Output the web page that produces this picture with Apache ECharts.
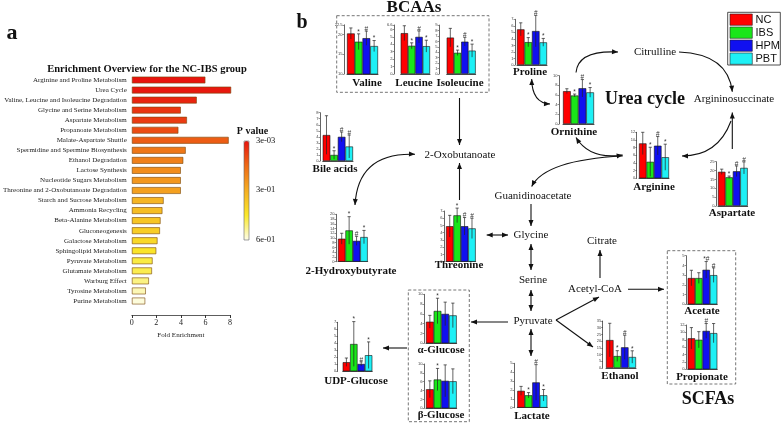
<!DOCTYPE html>
<html><head><meta charset="utf-8">
<script src="https://cdn.jsdelivr.net/npm/echarts@6/dist/echarts.min.js"></script>
<style>html,body{margin:0;padding:0;background:#fff}#c{width:784px;height:423px}</style>
</head><body><div id="c"></div>
<script>
// ---------- Panel a data ----------
const enrichPathways = ['Arginine and Proline Metabolism','Urea Cycle','Valine, Leucine and Isoleucine Degradation','Glycine and Serine Metabolism','Aspartate Metabolism','Propanoate Metabolism','Malate-Aspartate Shuttle','Spermidine and Spermine Biosynthesis','Ethanol Degradation','Lactose Synthesis','Nucleotide Sugars Metabolism','Threonine and 2-Oxobutanoate Degradation','Starch and Sucrose Metabolism','Ammonia Recycling','Beta-Alanine Metabolism','Gluconeogenesis','Galactose Metabolism','Sphingolipid Metabolism','Pyruvate Metabolism','Glutamate Metabolism','Warburg Effect','Tyrosine Metabolism','Purine Metabolism'];
const foldEnrichment = [6.0, 8.1, 5.3, 4.0, 4.5, 3.8, 7.9, 4.4, 4.2, 4.0, 4.0, 4.0, 2.6, 2.5, 2.35, 2.3, 2.1, 2.0, 1.7, 1.65, 1.4, 1.15, 1.1];
const pValues = [0.003, 0.01, 0.03, 0.06, 0.07, 0.10, 0.13, 0.18, 0.20, 0.23, 0.25, 0.27, 0.32, 0.34, 0.36, 0.38, 0.41, 0.44, 0.47, 0.48, 0.52, 0.56, 0.59];
const xTicksA = [0, 8, 2];

// ---------- Panel b data ----------
const groups = ['NC','IBS','HPM','PBT'];
const valineMean = [20.3, 18.2, 19.1, 17.1];   const valineErr = [1.4, 2.0, 1.8, 1.4];   const valineSig = ['', '*', '#', '*'];
const leucineMean = [5.5, 3.8, 5.0, 3.75];     const leucineErr = [1.0, 0.4, 0.8, 0.8];  const leucineSig = ['', '*', '#', '*'];
const isoleucineMean = [6.7, 3.9, 5.95, 4.3];  const isoleucineErr = [1.7, 0.5, 0.8, 1.2]; const isoleucineSig = ['', '*', '#', '*'];
const prolineMean = [5.46, 3.5, 5.2, 3.47];    const prolineErr = [1.0, 0.7, 2.4, 0.6];  const prolineSig = ['', '*', '#', '*'];
const ornithineMean = [6.8, 5.9, 7.4, 6.55];   const ornithineErr = [0.5, 0.3, 1.8, 1.0]; const ornithineSig = ['', '*', '#', '*'];
const bileMean = [4.3, 1.0, 4.0, 2.4];         const bileErr = [3.2, 0.7, 0.8, 1.9];     const bileSig = ['', '*', '#', '#'];
const arginineMean = [9.1, 4.3, 8.5, 5.5];     const arginineErr = [2.9, 3.8, 2.4, 3.4]; const arginineSig = ['', '*', '#', '*'];
const aspartateMean = [19.3, 16.2, 19.6, 21.5];const aspartateErr = [1.5, 0.7, 3.0, 3.4];const aspartateSig = ['', '*', '#', '#'];
const hydroxyMean = [9.7, 13.2, 8.8, 10.4];    const hydroxyErr = [2.3, 5.8, 1.9, 2.8];  const hydroxySig = ['', '*', '#', '*'];
const threonineMean = [4.9, 6.4, 4.9, 4.6];    const threonineErr = [1.5, 1.0, 1.2, 1.4]; const threonineSig = ['', '*', '#', '#'];
const aGlucoseMean = [4.4, 6.6, 6.0, 5.7];     const aGlucoseErr = [1.3, 2.6, 2.4, 2.5]; const aGlucoseSig = ['', '*', '', ''];
const bGlucoseMean = [4.3, 6.5, 6.2, 6.1];     const bGlucoseErr = [1.9, 2.5, 3.6, 2.8]; const bGlucoseSig = ['', '*', '', ''];
const udpMean = [1.3, 3.9, 1.05, 2.3];         const udpErr = [0.6, 3.2, 0.3, 1.9];      const udpSig = ['', '*', '#', '*'];
const lactateMean = [1.9, 1.4, 2.85, 1.4];     const lactateErr = [0.5, 0.3, 2.0, 0.65]; const lactateSig = ['', '*', '#', '*'];
const ethanolMean = [20.8, 8.9, 15.4, 8.2];    const ethanolErr = [12.5, 4.0, 9.0, 4.6]; const ethanolSig = ['', '*', '#', '*'];
const acetateMean = [2.7, 2.7, 3.55, 3.0];     const acetateErr = [0.8, 0.55, 0.85, 0.75]; const acetateSig = ['', '', '*#', '#'];
const propionateMean = [8.4, 8.0, 10.4, 9.8];  const propionateErr = [2.9, 2.2, 2.0, 2.6]; const propionateSig = ['', '', '#', ''];

const metabolites = [
  {label:'Valine', mean:valineMean, err:valineErr, sig:valineSig, min:10, max:22.5, interval:5},
  {label:'Leucine', mean:leucineMean, err:leucineErr, sig:leucineSig, min:0, max:6.6, interval:1},
  {label:'Isoleucine', mean:isoleucineMean, err:isoleucineErr, sig:isoleucineSig, min:0, max:9, interval:1},
  {label:'Proline', mean:prolineMean, err:prolineErr, sig:prolineSig, min:0, max:7, interval:1},
  {label:'Ornithine', mean:ornithineMean, err:ornithineErr, sig:ornithineSig, min:0, max:10, interval:2},
  {label:'Bile acids', mean:bileMean, err:bileErr, sig:bileSig, min:0, max:8, interval:1},
  {label:'Arginine', mean:arginineMean, err:arginineErr, sig:arginineSig, min:0, max:12, interval:2},
  {label:'Aspartate', mean:aspartateMean, err:aspartateErr, sig:aspartateSig, min:0, max:25, interval:5},
  {label:'2-Hydroxybutyrate', mean:hydroxyMean, err:hydroxyErr, sig:hydroxySig, min:0, max:20, interval:2},
  {label:'Threonine', mean:threonineMean, err:threonineErr, sig:threonineSig, min:0, max:7, interval:1},
  {label:'\u03b1-Glucose', mean:aGlucoseMean, err:aGlucoseErr, sig:aGlucoseSig, min:0, max:10, interval:2},
  {label:'\u03b2-Glucose', mean:bGlucoseMean, err:bGlucoseErr, sig:bGlucoseSig, min:0, max:10, interval:2},
  {label:'UDP-Glucose', mean:udpMean, err:udpErr, sig:udpSig, min:0, max:7, interval:1},
  {label:'Lactate', mean:lactateMean, err:lactateErr, sig:lactateSig, min:0, max:5, interval:1},
  {label:'Ethanol', mean:ethanolMean, err:ethanolErr, sig:ethanolSig, min:0, max:35, interval:5},
  {label:'Acetate', mean:acetateMean, err:acetateErr, sig:acetateSig, min:0, max:5, interval:1},
  {label:'Propionate', mean:propionateMean, err:propionateErr, sig:propionateSig, min:0, max:12, interval:2}
];

// ---------- Layout (positions, px) ----------
const chartLayout = {
  'Valine':            {axisX:344, barL:347, barR:378, top:24.8, bottom:74, lx:367, ly:83},
  'Leucine':           {axisX:394, barL:400.7, barR:430, top:25, bottom:74, lx:414, ly:83},
  'Isoleucine':        {axisX:439, barL:446.7, barR:475.7, top:25.1, bottom:74, lx:460, ly:83},
  'Proline':           {axisX:515, barL:517, barR:547, top:19.3, bottom:65, lx:530, ly:72},
  'Ornithine':         {axisX:559, barL:563, barR:594, top:75.7, bottom:124, lx:574, ly:132},
  'Bile acids':        {axisX:320, barL:322.7, barR:353, top:112.7, bottom:161, lx:335, ly:169},
  'Arginine':          {axisX:636.7, barL:639, barR:669, top:132.3, bottom:178.3, lx:654, ly:187},
  'Aspartate':         {axisX:716, barL:718, barR:747.7, top:161.7, bottom:206, lx:732, ly:213.5},
  '2-Hydroxybutyrate': {axisX:336, barL:338, barR:367.7, top:214.3, bottom:261.7, lx:351, ly:271},
  'Threonine':         {axisX:444, barL:446, barR:475.7, top:211, bottom:261.7, lx:459, ly:265.5},
  '\u03b1-Glucose':    {axisX:424, barL:426, barR:456.7, top:294.3, bottom:343.3, lx:441, ly:350},
  '\u03b2-Glucose':    {axisX:424, barL:426, barR:456.7, top:364, bottom:408.3, lx:441, ly:415},
  'UDP-Glucose':       {axisX:337.7, barL:342.7, barR:372.3, top:322.3, bottom:371.3, lx:356, ly:381},
  'Lactate':           {axisX:514, barL:517.3, barR:547.3, top:363.3, bottom:407.7, lx:532, ly:416},
  'Ethanol':           {axisX:602.7, barL:606, barR:636, top:321, bottom:368, lx:620, ly:376},
  'Acetate':           {axisX:686, barL:687.7, barR:717.3, top:255.7, bottom:304.3, lx:702, ly:311},
  'Propionate':        {axisX:686, barL:687.7, barR:717.3, top:325, bottom:369.3, lx:702, ly:377}
};

const SERIF = '"Liberation Serif","Times New Roman",serif';
const SANS = '"Liberation Sans",Arial,sans-serif';
const groupColors = ['#ff0000', '#19e619', '#1010f0', '#1ef0f5'];

const chart = echarts.init(document.getElementById('c'), null, {renderer:'canvas'});

const grids = [{left:130, top:75, width:100, height:231}];
const xAxes = [{gridIndex:0, type:'value', min:xTicksA[0], max:xTicksA[1], interval:xTicksA[2], offset:9,
  axisLine:{show:true, lineStyle:{color:'#333', width:0.8}}, axisTick:{show:true, length:3, lineStyle:{color:'#333'}},
  splitLine:{show:false}, axisLabel:{fontSize:8, fontFamily:SERIF, color:'#222', margin:4},
  name:'Fold Enrichment', nameLocation:'middle', nameGap:17, nameTextStyle:{fontSize:7, fontFamily:SERIF, color:'#222'}}];
const yAxes = [{gridIndex:0, type:'category', inverse:true, data:enrichPathways,
  axisLine:{show:false}, axisTick:{show:false}, axisLabel:{fontSize:7, fontFamily:SERIF, color:'#222', margin:5}}];
const series = [{type:'bar', xAxisIndex:0, yAxisIndex:0, barWidth:7, clip:false,
  data: enrichPathways.map((n,i)=>[foldEnrichment[i], n, pValues[i]]), encode:{x:0, y:1},
  itemStyle:{borderColor:'rgba(120,70,10,0.75)', borderWidth:0.8}}];

function makeErrRender(sig, minV) {
  return function(params, api) {
    const i = api.value(0), m = api.value(1), e = api.value(2);
    const cx = api.coord([i, m])[0];
    const yTop = api.coord([i, m + e])[1];
    const yBot = api.coord([i, Math.max(minV, m - e)])[1];
    const cap = 1.6;
    const st = {stroke:'#222', lineWidth:0.7};
    const children = [
      {type:'line', shape:{x1:cx, y1:yTop, x2:cx, y2:yBot}, style:st},
      {type:'line', shape:{x1:cx-cap, y1:yTop, x2:cx+cap, y2:yTop}, style:st}
    ];
    const s = sig[params.dataIndex];
    if (s) children.push({type:'text', x:cx, y:yTop + 1.5, style:{text:s, fontSize:6.5, fontFamily:SANS, fill:'#333', align:'center', verticalAlign:'bottom'}});
    return {type:'group', children};
  };
}

const graphics = [];
metabolites.forEach((mt, k) => {
  const L = chartLayout[mt.label];
  const gi = k + 1;
  grids.push({left:L.barL, top:L.top, width:L.barR - L.barL, height:L.bottom - L.top});
  xAxes.push({gridIndex:gi, type:'category', data:groups, boundaryGap:true,
    axisLine:{show:true, lineStyle:{color:'#222', width:0.8}}, axisTick:{show:false}, axisLabel:{show:false}});
  yAxes.push({gridIndex:gi, type:'value', min:mt.min, max:mt.max, interval:mt.interval, offset:L.barL - L.axisX,
    axisLine:{show:true, lineStyle:{color:'#222', width:0.7}}, axisTick:{show:true, length:1.5, lineStyle:{color:'#222', width:0.5}},
    splitLine:{show:false}, axisLabel:{fontSize:4, color:'#444', margin:1.5, fontFamily:SANS}});
  series.push({type:'bar', xAxisIndex:gi, yAxisIndex:gi, barCategoryGap:'0%', data:mt.mean.slice(),
    itemStyle:{color:p=>groupColors[p.dataIndex], borderColor:'#111', borderWidth:0.6}});
  series.push({type:'custom', xAxisIndex:gi, yAxisIndex:gi, clip:false, z:5,
    data: mt.mean.map((m,i)=>[i, m, mt.err[i]]), encode:{x:0, y:1},
    renderItem: makeErrRender(mt.sig, mt.min)});
  graphics.push({type:'text', x:L.lx, y:L.ly, style:{text:mt.label, font:'bold 11px ' + SERIF, fill:'#111', align:'center', verticalAlign:'middle'}});
});

// ---------- text & arrows ----------
function txt(t, x, y, font, align) {
  graphics.push({type:'text', x, y, style:{text:t, font, fill:'#111', align: align || 'center', verticalAlign:'middle'}});
}
txt('a', 12, 33, 'bold 22px ' + SERIF);
txt('b', 302, 23, 'bold 20px ' + SERIF);
txt('Enrichment Overview for the NC-IBS group', 147, 69.5, 'bold 10.5px ' + SERIF);
txt('P value', 252.5, 131, 'bold 10px ' + SERIF);
txt('3e-03', 256, 141, '8.5px ' + SERIF, 'left');
txt('3e-01', 256, 190, '8.5px ' + SERIF, 'left');
txt('6e-01', 256, 240, '8.5px ' + SERIF, 'left');
txt('BCAAs', 414, 8, 'bold 17px ' + SERIF);
txt('Urea cycle', 645, 99, 'bold 18px ' + SERIF);
txt('SCFAs', 708, 399, 'bold 18px ' + SERIF);
const nodeFont = '11px ' + SERIF;
txt('Citrulline', 655, 52.5, nodeFont);
txt('Argininosuccinate', 734, 99.5, nodeFont);
txt('2-Oxobutanoate', 460, 155, nodeFont);
txt('Guanidinoacetate', 533, 196, nodeFont);
txt('Glycine', 531, 235, nodeFont);
txt('Citrate', 602, 241, nodeFont);
txt('Serine', 533, 280, nodeFont);
txt('Acetyl-CoA', 595, 289, nodeFont);
txt('Pyruvate', 533, 321, nodeFont);

// dashed boxes
function dbox(x1, y1, x2, y2) {
  graphics.push({type:'rect', shape:{x:x1, y:y1, width:x2-x1, height:y2-y1}, style:{fill:'none', stroke:'#666', lineWidth:0.9, lineDash:[3,2]}});
}
dbox(336.7, 15.7, 489, 92.3);
dbox(408.3, 290, 469.3, 421.7);
dbox(667.3, 250.7, 735.7, 384);

// colour bar border
graphics.push({type:'rect', z:100, shape:{x:244, y:141, width:5, height:99}, style:{fill:'none', stroke:'#666', lineWidth:0.6}});

// legend
graphics.push({type:'rect', shape:{x:727.7, y:12.3, width:52.6, height:52.7}, style:{fill:'#fff', stroke:'#222', lineWidth:0.8}});
groups.forEach((g, i) => {
  graphics.push({type:'rect', shape:{x:730, y:14 + 13*i, width:22.3, height:11.3}, style:{fill:groupColors[i], stroke:'#222', lineWidth:0.6}});
  graphics.push({type:'text', x:755.5, y:19.8 + 13*i, style:{text:g, font:'11px ' + SANS, fill:'#111', align:'left', verticalAlign:'middle'}});
});

function head(tx, ty, dx, dy) {
  const l = Math.hypot(dx, dy), ux = dx/l, uy = dy/l, len = 6, hw = 2.5;
  const bx = tx - ux*len, by = ty - uy*len;
  graphics.push({type:'polygon', shape:{points:[[tx,ty],[bx - uy*hw, by + ux*hw],[bx + uy*hw, by - ux*hw]]}, style:{fill:'#111'}});
}
const ast = {stroke:'#111', lineWidth:1.1, fill:'none'};
function arrow(x1, y1, x2, y2, heads) {
  graphics.push({type:'line', shape:{x1, y1, x2, y2}, style:ast});
  if (heads !== 'start') head(x2, y2, x2 - x1, y2 - y1);
  if (heads === 'both' || heads === 'start') head(x1, y1, x1 - x2, y1 - y2);
}
function curve(x1, y1, cx, cy, x2, y2, heads) {
  graphics.push({type:'bezierCurve', shape:{x1, y1, x2, y2, cpx1:cx, cpy1:cy}, style:ast});
  if (heads !== 'start') head(x2, y2, x2 - cx, y2 - cy);
  if (heads === 'both' || heads === 'start') head(x1, y1, x1 - cx, y1 - cy);
}
arrow(459.5, 98, 459.5, 145);
arrow(459.5, 200, 459.5, 163);
arrow(486.7, 235, 508, 235, 'both');
arrow(531, 204, 531, 226);
arrow(531, 244, 531, 270, 'both');
arrow(531, 290, 531, 311, 'both');
arrow(531, 329, 531, 356, 'both');
arrow(508, 322, 471, 322);
arrow(407, 348, 383, 348);
arrow(556, 320, 599, 297);
arrow(556, 320, 593, 347);
arrow(600, 278, 600, 250);
arrow(628, 289.3, 664, 289.3);
arrow(732.3, 149, 732.3, 112.5);
curve(415, 154.3, 358, 152, 355, 205, 'both');
curve(531.7, 79, 532, 103, 550, 104, 'both');
curve(576, 72.5, 578, 50, 618, 52);
curve(679, 52, 728, 54, 732.3, 91.7);
curve(731, 121, 718, 156, 682, 156);
curve(622.7, 155, 590, 160, 576, 137.5, 'both');
curve(622.7, 156, 545, 160, 531.7, 186.5);

chart.setOption({
  animation:false,
  backgroundColor:'#fff',
  grid:grids, xAxis:xAxes, yAxis:yAxes, series,
  visualMap:{type:'continuous', seriesIndex:0, dimension:2, min:0.003, max:0.6, inverse:true, calculable:false,
    left:244, top:141, itemWidth:5, itemHeight:99, padding:0, showLabel:false, text:null,
    inRange:{color:['#e8140e','#ee6a16','#f5ae22','#fae82a','#fdfde8']}},
  graphic:{elements:graphics}
});
</script></body></html>
